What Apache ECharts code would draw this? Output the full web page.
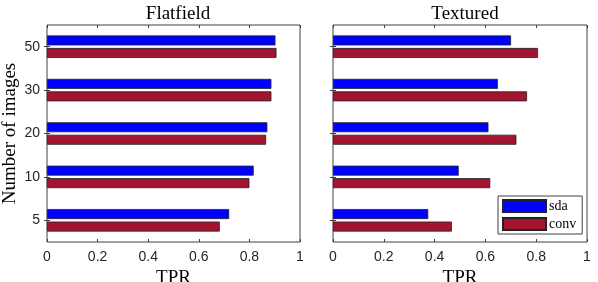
<!DOCTYPE html>
<html><head><meta charset="utf-8">
<script src="https://cdn.jsdelivr.net/npm/echarts@6/dist/echarts.min.js"></script>
<style>html,body{margin:0;padding:0;background:#fff}#c{width:598px;height:282px}</style>
</head><body><div id="c"></div>
<script>
const categories = ['5', '10', '20', '30', '50'];
const xTicks = [0, 0.2, 0.4, 0.6, 0.8, 1];
const panelTitles = ['Flatfield', 'Textured'];
const flatSda  = [0.72, 0.817, 0.871, 0.887, 0.903];
const flatConv = [0.683, 0.800, 0.866, 0.887, 0.907];
const texSda   = [0.375, 0.495, 0.612, 0.649, 0.701];
const texConv  = [0.468, 0.619, 0.722, 0.764, 0.807];

const blue = '#0000FF', red = '#A2142F';
const serif = 'Liberation Serif';
const sans = 'Liberation Sans';
const axisCol = '#404040';

const grids = [
  {left: 47, right: 298, top: 25, bottom: 40},
  {left: 333, right: 11, top: 25, bottom: 40}
];
const chart = echarts.init(document.getElementById('c'));
const xAxes = [], yAxes = [], series = [];
const panelData = [[flatSda, flatConv], [texSda, texConv]];
grids.forEach((g, i) => {
  g.show = true; g.borderColor = axisCol; g.borderWidth = 1; g.backgroundColor = 'transparent';
  g.containLabel = false; g.outerBoundsMode = 'none';
  xAxes.push({type: 'value', gridIndex: i, min: xTicks[0], max: xTicks[xTicks.length - 1], interval: 0.2, position: 'bottom',
    axisLine: {show: false}, splitLine: {show: false},
    axisTick: {show: true, inside: true, length: 3, lineStyle: {color: axisCol}},
    axisLabel: {fontFamily: sans, fontSize: 14, color: '#262626', margin: 8},
    name: 'TPR', nameLocation: 'middle', nameGap: 21,
    nameTextStyle: {fontFamily: serif, fontSize: 19, color: '#000', lineHeight: 19}});
  xAxes.push({type: 'value', gridIndex: i, min: 0, max: 1, interval: 0.2, position: 'top',
    axisLine: {show: false}, splitLine: {show: false}, axisLabel: {show: false},
    axisTick: {show: true, inside: true, length: 3, lineStyle: {color: axisCol}}});
  yAxes.push({type: 'category', gridIndex: i, data: categories, position: 'left',
    axisLine: {show: false},
    axisTick: {show: true, inside: true, length: 3, alignWithLabel: true, lineStyle: {color: axisCol}},
    axisLabel: {show: i === 0, fontFamily: sans, fontSize: 14, color: '#262626', margin: 7},
    name: i === 0 ? 'Number of images' : '', nameLocation: 'middle', nameGap: 27,
    nameTextStyle: {fontFamily: serif, fontSize: 19, color: '#000'}});
  yAxes.push({type: 'category', gridIndex: i, data: categories, position: 'right',
    axisLine: {show: false}, axisLabel: {show: false},
    axisTick: {show: true, inside: true, length: 3, alignWithLabel: true, lineStyle: {color: axisCol}}});
  const [sda, conv] = panelData[i];
  series.push({name: 'sda', type: 'bar', xAxisIndex: i * 2, yAxisIndex: i * 2, data: sda,
    barWidth: 10, barGap: '25%',
    itemStyle: {color: blue, borderColor: '#222', borderWidth: 0.8}});
  series.push({name: 'conv', type: 'bar', xAxisIndex: i * 2, yAxisIndex: i * 2, data: conv,
    barWidth: 10, barGap: '25%',
    itemStyle: {color: red, borderColor: '#222', borderWidth: 0.8}});
});

chart.setOption({
  animation: false,
  title: [
    {text: panelTitles[0], left: 173, top: 0, textAlign: 'center',
      textStyle: {fontFamily: serif, fontSize: 19, fontWeight: 'normal', color: '#000'}},
    {text: panelTitles[1], left: 460, top: 0, textAlign: 'center',
      textStyle: {fontFamily: serif, fontSize: 19, fontWeight: 'normal', color: '#000'}}
  ],
  legend: {data: ['sda', 'conv'], orient: 'vertical', left: 498, top: 196,
    itemWidth: 43, itemHeight: 12, itemGap: 4, padding: [3, 6, 3, 4],
    backgroundColor: '#fff', borderColor: axisCol, borderWidth: 1, icon: 'rect',
    textStyle: {fontFamily: serif, fontSize: 14, color: '#000', padding: [0, 0, 0, -2]}},
  grid: grids,
  xAxis: xAxes,
  yAxis: yAxes,
  series: series
});
</script></body></html>
